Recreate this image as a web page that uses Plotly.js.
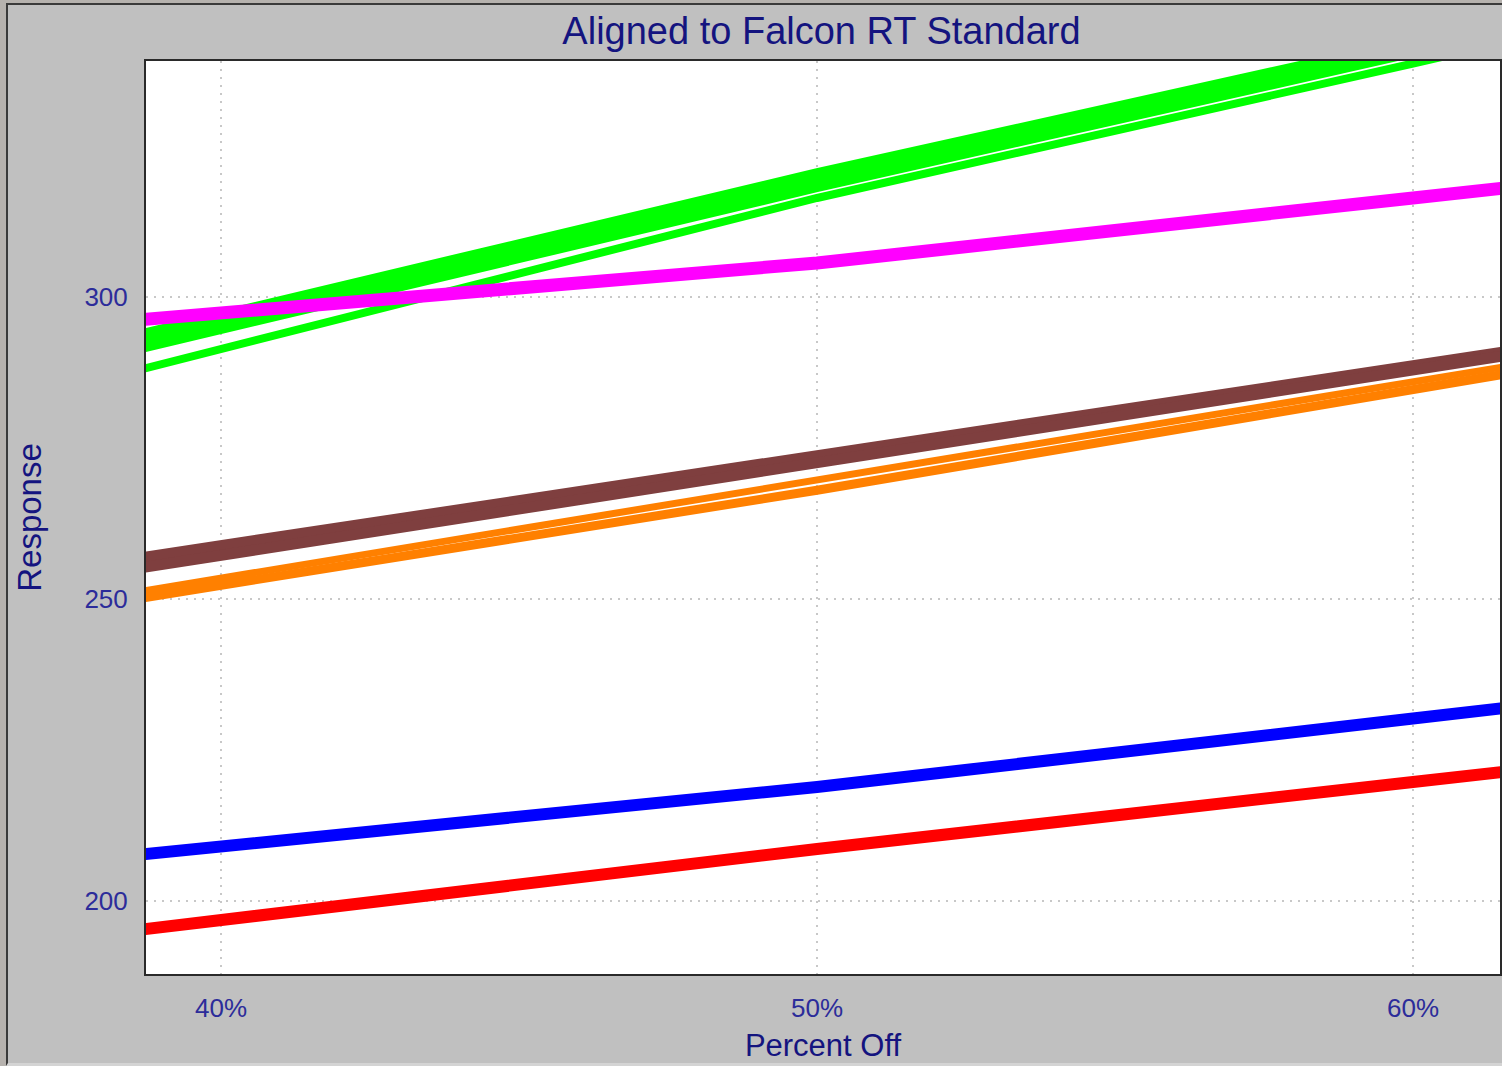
<!DOCTYPE html>
<html>
<head>
<meta charset="utf-8">
<script src="https://cdn.plot.ly/plotly-3.0.1.min.js"></script>
<style>
  html, body { margin: 0; padding: 0; background: #b6b2ae; overflow: hidden; }
  #frame { position: absolute; left: 6px; top: 3px; width: 1496px; height: 1058px;
           border-left: 2px solid #3a3a3a; border-top: 2px solid #3a3a3a;
           border-bottom: 3px solid #d4d4d4; background: #c0c0c0; }
  #chart { width: 1494px; height: 1058px; }
</style>
</head>
<body>
<div id="frame"><div id="chart"></div></div>
<script>
// ---- data ----
const pctOff = [38, 40, 50, 60, 62];     // Percent Off (%)
const green1 = [292.55, 297.25, 320.75, 342.65, 347.04];
const green2 = [291.61, 296.31, 319.80, 341.84, 346.26];
const green3 = [290.66, 295.36, 318.86, 341.04, 345.48];
const green4 = [289.74, 294.44, 317.93, 340.23, 344.70];
const green5 = [286.39, 291.39, 316.39, 338.66, 343.11];
const magenta1 = [295.70, 297.35, 305.63, 316.39, 318.54];
const brown1 = [255.85, 258.82, 273.73, 288.63, 291.61];
const brown2 = [254.16, 257.23, 272.57, 287.90, 290.97];
const orange1 = [250.20, 253.45, 269.71, 285.96, 289.21];
const orange2 = [249.05, 252.28, 268.00, 284.39, 288.00];
const blue1 = [207.06, 209.02, 218.87, 230.20, 232.47];
const red1 = [194.49, 196.84, 208.61, 219.70, 221.92];
const xTickVals = [40, 50, 60];
const xTickText = ['40%', '50%', '60%'];
const yTickVals = [200, 250, 300];

function line(y, color, width) {
  return { x: pctOff, y: y, type: 'scatter', mode: 'lines',
           line: { color: color, width: width }, hoverinfo: 'x+y', showlegend: false };
}

const traces = [
  line(green1, '#00ff00', 7),
  line(green2, '#00ff00', 7),
  line(green3, '#00ff00', 7),
  line(green4, '#00ff00', 7),
  line(green5, '#00ff00', 8),
  line(magenta1, '#ff00ff', 13),
  line(brown1, '#7f3f3f', 11),
  line(brown2, '#7f3f3f', 11),
  line(orange1, '#ff8000', 7),
  line(orange2, '#ff8000', 9),
  line(blue1, '#0000ff', 12),
  line(red1, '#ff0000', 12)
];

const FONT = 'Arial, "Liberation Sans", sans-serif';
const tickFont = { family: FONT, size: 26, color: '#2c2c9a' };

const layout = {
  width: 1494, height: 1058,
  margin: { l: 138, r: 2, t: 56, b: 89 },
  paper_bgcolor: '#c0c0c0',
  plot_bgcolor: '#ffffff',
  showlegend: false,
  title: { text: 'Aligned to Falcon RT Standard', x: 813.5 / 1494, xref: 'container', xanchor: 'center',
           y: 0.9754, yanchor: 'middle', yref: 'container',
           font: { family: FONT, size: 38, color: '#14147f' } },
  xaxis: {
    range: [38.74, 61.46], tickvals: xTickVals, ticktext: xTickText,
    showgrid: true, gridcolor: '#c8c8c8', gridwidth: 2, griddash: '2px,6px',
    zeroline: false, showline: true, mirror: true, linecolor: '#2a2a2a', linewidth: 2,
    ticks: 'outside', ticklen: 10, tickcolor: 'rgba(0,0,0,0)',
    tickfont: tickFont,
    title: { text: 'Percent Off', font: { family: FONT, size: 31, color: '#14147f' }, standoff: 14 }
  },
  yaxis: {
    range: [187.91, 339.07], tickvals: yTickVals,
    showgrid: true, gridcolor: '#c8c8c8', gridwidth: 2, griddash: '2px,6px',
    zeroline: false, showline: true, mirror: true, linecolor: '#2a2a2a', linewidth: 2,
    ticks: 'outside', ticklen: 11, tickcolor: 'rgba(0,0,0,0)',
    tickfont: tickFont,
    title: { text: 'Response', font: { family: FONT, size: 33, color: '#14147f' }, standoff: 33 }
  }
};

Plotly.newPlot('chart', traces, layout, { displayModeBar: false, staticPlot: true });
</script>
</body>
</html>
